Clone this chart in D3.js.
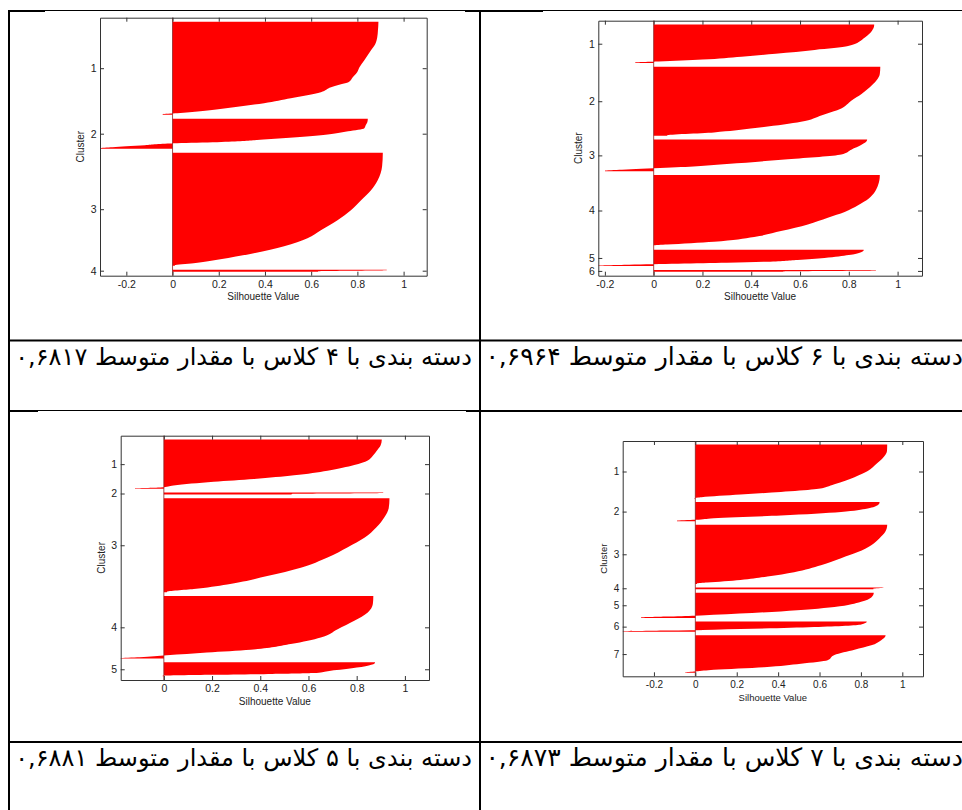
<!DOCTYPE html>
<html>
<head>
<meta charset="utf-8">
<script src="https://d3js.org/d3.v7.min.js"></script>
<style>
  body { margin: 0; background: #fff; }
  svg { display: block; }
  .axis text { font-family: "Liberation Sans", Arial, sans-serif; fill: #222; }
  .axis path, .axis line { stroke: #333; }
  .label { font-family: "Liberation Sans", Arial, sans-serif; fill: #222; }
  .caption { font-family: "DejaVu Sans", sans-serif; fill: #000; }
</style>
</head>
<body>
<svg id="chart" width="962" height="810"></svg>
<script>

// number of observations in each cluster
var counts4 = [93, 30, 113, 2];
var counts6 = [40, 72, 33, 74, 17, 2];
var counts5 = [53, 2, 101, 67, 15];
var counts7 = [62, 22, 68, 2, 29, 12, 43];

// silhouette values, [rank inside cluster, value], sorted high to low
var sil4 = [
  [[0,.891],[8,.889],[15,.886],[22,.877],[28,.859],[38,.83],[45,.809],[50,.799],[55,.78],[60,.761],[62,.729],[65,.686],[70,.642],[76,.512],[81,.396],[85,.265],[89,.12],[91,.02],[92,-.043]],
  [[0,.845],[3,.843],[6,.836],[9,.83],[12,.76],[16,.642],[20,.41],[23,.193],[24,.02],[25,-.07],[26,-.12],[27,-.2],[28,-.26],[29,-.314]],
  [[0,.91],[13,.907],[27,.888],[37,.859],[47,.816],[57,.772],[67,.714],[77,.642],[85,.584],[93,.483],[100,.352],[106,.207],[110,.091],[112,.01]],
  [[0,.927],[1,.63]]
];
var sil6 = [
  [[0,.904],[6,.895],[13,.866],[22,.797],[26,.66],[30,.5],[33,.36],[36,.2],[38,.02],[39,-.076]],
  [[0,.929],[7,.927],[14,.913],[21,.886],[28,.852],[35,.81],[43,.769],[50,.69],[57,.604],[64,.398],[68,.247],[71,.055]],
  [[0,.875],[5,.852],[10,.81],[15,.769],[20,.55],[25,.3],[29,.05],[30,-.05],[31,-.13],[32,-.2]],
  [[0,.927],[10,.92],[17,.907],[24,.882],[31,.838],[38,.783],[44,.714],[51,.632],[58,.522],[64,.412],[69,.247],[72,.055],[73,0]],
  [[0,.861],[2,.85],[5,.8],[8,.7],[10,.59],[12,.45],[13,.3],[14,.1],[15,-.1],[16,-.227]],
  [[0,.911],[1,.53]]
];
var sil5 = [
  [[0,.904],[6,.899],[11,.885],[17,.867],[22,.846],[27,.79],[33,.679],[38,.54],[42,.374],[45,.207],[49,.04],[51,-.015],[52,-.12]],
  [[0,.91],[1,.53]],
  [[0,.936],[10,.933],[20,.915],[31,.881],[42,.832],[52,.763],[63,.679],[74,.568],[83,.429],[92,.263],[97,.124],[100,.0125]],
  [[0,.869],[8,.867],[17,.846],[26,.79],[35,.721],[44,.651],[51,.526],[57,.36],[60,.179],[63,.0125],[65,-.1],[66,-.179]],
  [[0,.876],[3,.85],[6,.78],[9,.68],[11,.62],[12,.45],[13,.2],[14,-.005]]
];
var sil7 = [
  [[0,.927],[7,.926],[15,.906],[22,.874],[30,.833],[37,.769],[45,.672],[51,.574],[54,.413],[57,.218],[60,.03],[61,-.005]],
  [[0,.89],[3,.882],[7,.833],[11,.704],[15,.413],[18,.089],[20,0],[21,-.089]],
  [[0,.927],[8,.917],[15,.89],[23,.85],[31,.785],[38,.704],[46,.607],[54,.477],[59,.348],[63,.218],[66,.057],[67,.008]],
  [[0,.909],[1,.86]],
  [[0,.862],[5,.85],[10,.801],[16,.672],[21,.413],[25,.089],[26,0],[27,-.138],[28,-.262]],
  [[0,.828],[3,.801],[6,.574],[9,.089],[10,-.14],[11,-.351]],
  [[0,.919],[5,.898],[11,.85],[16,.769],[22,.672],[28,.639],[32,.51],[36,.332],[39,.089],[41,0],[42,-.049]]
];

var xTickValues = [-0.2, 0, 0.2, 0.4, 0.6, 0.8, 1];
var xLabel = "Silhouette Value";
var yLabel = "Cluster";

var captions = [
  "دسته بندی با ۴ کلاس با مقدار متوسط ۰,۶۸۱۷",
  "دسته بندی با ۶ کلاس با مقدار متوسط ۰,۶۹۶۴",
  "دسته بندی با ۵ کلاس با مقدار متوسط ۰,۶۸۸۱",
  "دسته بندی با ۷ کلاس با مقدار متوسط ۰,۶۸۷۳"
];

var svg = d3.select("#chart");

// table grid
var grid = svg.append("g");
function hline(x1, x2, y, w) {
  grid.append("line").attr("x1", x1).attr("x2", x2).attr("y1", y).attr("y2", y)
    .attr("stroke", "#000").attr("stroke-width", w);
}
function vline(x, y1, y2) {
  grid.append("line").attr("x1", x).attr("x2", x).attr("y1", y1).attr("y2", y2)
    .attr("stroke", "#000").attr("stroke-width", 2);
}
hline(8, 45, 11, 2); hline(45, 465, 10.5, 1); hline(465, 543, 11, 2); hline(543, 962, 10.5, 1);
hline(8, 962, 340.5, 2);
hline(8, 38, 411, 2); hline(38, 466, 410.5, 1); hline(466, 962, 411, 2);
hline(8, 962, 742, 2);
vline(9, 10, 810);
vline(480, 10, 810);

// panel layout
var panels = [
  {counts: counts4, sil: sil4, l: 100, r: 426.7, t: 17.7, b: 275.7, fs: 10.5, cap: captions[0], capR: 472, capL: 15, capY: 365},
  {counts: counts6, sil: sil6, l: 598.3, r: 922, t: 20.7, b: 275.7, fs: 10.5, cap: captions[1], capR: 963, capL: 485, capY: 365},
  {counts: counts5, sil: sil5, l: 120.7, r: 429, t: 435.7, b: 680, fs: 10.5, cap: captions[2], capR: 472, capL: 15, capY: 766},
  {counts: counts7, sil: sil7, l: 622.7, r: 923, t: 441, b: 676.3, fs: 10, cap: captions[3], capR: 963, capL: 485, capY: 766}
];

panels.forEach(function(p) {
  var g = svg.append("g");
  var N = d3.sum(p.counts);
  var k = p.counts.length;
  var space = Math.max(Math.floor(0.02 * N), 2);
  var totalRows = N + (k + 1) * space;
  var xmin = d3.min(p.sil, function(c) { return d3.min(c, function(d) { return d[1]; }); });

  var x = d3.scaleLinear().domain([xmin, 1.1]).range([p.l, p.r]);
  var y = d3.scaleLinear().domain([0, totalRows]).range([p.t, p.b]);

  var starts = [], acc = space;
  p.counts.forEach(function(c) { starts.push(acc); acc += c + space; });
  var centers = p.counts.map(function(c, i) { return starts[i] + c / 2; });

  var area = d3.area()
    .curve(d3.curveMonotoneY)
    .y(function(d) { return y(d[0]); })
    .x0(x(0))
    .x1(function(d) { return x(d[1]); });

  p.sil.forEach(function(prof, i) {
    var s = starts[i], n = p.counts[i];
    var pts = [[s, prof[0][1]]];
    prof.forEach(function(d) { pts.push([s + d[0] + 0.5, d[1]]); });
    pts.push([s + n, prof[prof.length - 1][1]]);
    g.append("path").attr("d", area(pts)).attr("fill", "#ff0000");
  });

  // bar baseline
  g.append("line").attr("x1", x(0)).attr("x2", x(0)).attr("y1", p.t).attr("y2", p.b)
    .attr("stroke", "#8a2020").attr("stroke-width", 0.8);

  var ticks = xTickValues.filter(function(v) { return v >= xmin && v <= 1.1; });

  var ax = [
    g.append("g").attr("transform", "translate(0," + p.b + ")")
      .call(d3.axisBottom(x).tickValues(ticks).tickSizeInner(-4).tickSizeOuter(0).tickPadding(5).tickFormat(function(d) { return String(d); })),
    g.append("g").attr("transform", "translate(0," + p.t + ")")
      .call(d3.axisTop(x).tickValues(ticks).tickSizeInner(-4).tickSizeOuter(0).tickFormat("")),
    g.append("g").attr("transform", "translate(" + p.l + ",0)")
      .call(d3.axisLeft(y).tickValues(centers).tickSizeInner(-4).tickSizeOuter(0).tickPadding(3.5).tickFormat(function(d, i) { return i + 1; })),
    g.append("g").attr("transform", "translate(" + p.r + ",0)")
      .call(d3.axisRight(y).tickValues(centers).tickSizeInner(-4).tickSizeOuter(0).tickFormat(""))
  ];
  ax.forEach(function(a) {
    a.attr("class", "axis").attr("font-family", null).attr("font-size", p.fs);
  });

  g.append("text").attr("class", "label")
    .attr("x", (p.l + p.r) / 2).attr("y", p.b + 24.5)
    .attr("text-anchor", "middle").attr("font-size", p.fs - 0.5)
    .text(xLabel);

  g.append("text").attr("class", "label")
    .attr("transform", "translate(" + (p.l - 16) + "," + ((p.t + p.b) / 2) + ") rotate(-90)")
    .attr("text-anchor", "middle").attr("font-size", p.fs - 0.5)
    .text(yLabel);

  // caption cell
  var cap = svg.append("text").attr("class", "caption")
    .attr("x", p.capR).attr("y", p.capY)
    .attr("direction", "rtl").attr("text-anchor", "start")
    .attr("font-size", 20)
    .text(p.cap);
  var len = cap.node().getComputedTextLength();
  cap.attr("font-size", 20 * (p.capR - p.capL) / len);
});

</script>
</body>
</html>
